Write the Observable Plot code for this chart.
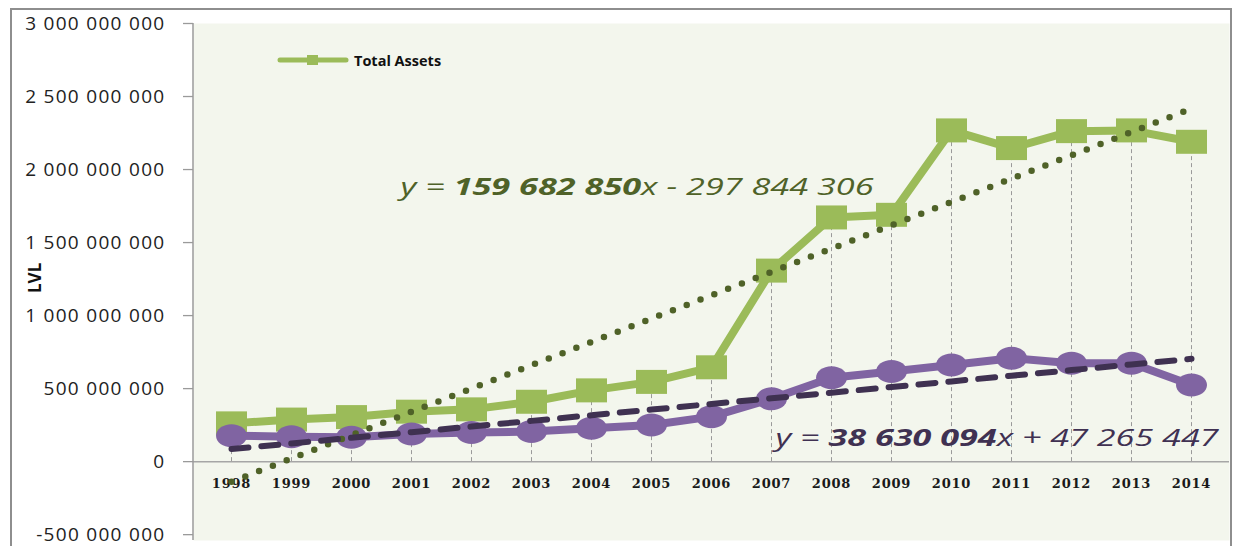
<!DOCTYPE html>
<html>
<head>
<meta charset="utf-8">
<script src="https://cdn.jsdelivr.net/npm/d3@7"></script>
<script src="https://cdn.jsdelivr.net/npm/@observablehq/plot@0.6"></script>
<style>
  html, body { margin: 0; padding: 0; background: #fff; }
  #wrap { position: relative; width: 1238px; height: 546px; overflow: hidden; }
  #border { position: absolute; left: 10px; top: 8px; width: 1222px; height: 600px; border: 2px solid #8e8e8e; box-sizing: border-box; pointer-events: none; }
  #legend { position: absolute; left: 276px; top: 50px; display: flex; align-items: center; font-family: "Open Sans", sans-serif; font-weight: bold; font-size: 14.5px; color: #111; }
  svg g[aria-label="y-axis tick label"] text { letter-spacing: 1.3px; }
</style>
</head>
<body>
<div id="wrap">
  <div id="chart"></div>
  <div id="border"></div>
  <div id="legend">
    <svg width="74" height="20"><line x1="4" y1="10" x2="70" y2="10" stroke="#9bbb59" stroke-width="5" stroke-linecap="round"/><rect x="31" y="5" width="11" height="10" fill="#9bbb59"/></svg>
    <span style="margin-left:4px">Total Assets</span>
  </div>
</div>
<script>
// ---- data ----
const years = ["1998","1999","2000","2001","2002","2003","2004","2005","2006","2007","2008","2009","2010","2011","2012","2013","2014"];
const totalAssets = [262e6, 288e6, 305e6, 342e6, 358e6, 410e6, 488e6, 546e6, 646e6, 1308e6, 1672e6, 1690e6, 2268e6, 2147e6, 2263e6, 2268e6, 2190e6];
const secondSeries = [178e6, 171e6, 167e6, 190e6, 199e6, 206e6, 229e6, 251e6, 308e6, 430e6, 575e6, 617e6, 662e6, 708e6, 674e6, 674e6, 525e6];
const greenTrend = {slope: 159682850, intercept: -297844306};
const purpleTrend = {slope: 38630094, intercept: 47265447};
const yTicks = [-5e8, 0, 5e8, 1e9, 1.5e9, 2e9, 2.5e9, 3e9];
const greenEq = {pre: "y = ", bold: "159 682 850", post: "x - 297 844 306"};
const purpleEq = {pre: "y = ", bold: "38 630 094", post: "x + 47 265 447"};

// ---- derived tables ----
const green = years.map((y, i) => ({year: y, v: totalAssets[i]}));
const purple = years.map((y, i) => ({year: y, v: secondSeries[i]}));
const gTrend = years.map((y, i) => ({year: y, v: greenTrend.slope * (i + 1) + greenTrend.intercept}));
const pTrend = years.map((y, i) => ({year: y, v: purpleTrend.slope * (i + 1) + purpleTrend.intercept}));

const fmt = d => d3.format(",")(d).replace(/,/g, " ").replace("−", "-");
const eqText = d => d.pre + d.bold + d.post;

const rectSymbol = {draw(ctx) { const w = 15.5, h = 12; ctx.moveTo(-w, -h); ctx.lineTo(w, -h); ctx.lineTo(w, h); ctx.lineTo(-w, h); ctx.closePath(); }};
const ellipseSymbol = {draw(ctx) {
  const a = 15.5, b = 11.5, k = 0.5523;
  ctx.moveTo(a, 0);
  ctx.bezierCurveTo(a, b * k, a * k, b, 0, b);
  ctx.bezierCurveTo(-a * k, b, -a, b * k, -a, 0);
  ctx.bezierCurveTo(-a, -b * k, -a * k, -b, 0, -b);
  ctx.bezierCurveTo(a * k, -b, a, -b * k, a, 0);
  ctx.closePath();
}};

const ML = 193, MT = 23, MB = 6;
const plot = Plot.plot({
  width: 1238,
  height: 546,
  marginLeft: ML,
  marginRight: 9,
  marginTop: MT,
  marginBottom: MB,
  style: {fontFamily: "'Open Sans', sans-serif", background: "transparent"},
  x: {type: "point", domain: years, padding: 0.5, axis: null},
  y: {domain: [-5.4e8, 3e9], range: [546 - MB, MT], axis: null},
  marks: [
    Plot.frame({fill: "#f3f6ed", stroke: null}),
    Plot.axisY({ticks: yTicks, tickSize: 10, tickPadding: 18, tickFormat: fmt, label: null, fontSize: 19, stroke: "#9a9a9a", strokeWidth: 1.3, fill: "#222"}),
    Plot.ruleY([0], {stroke: "#a6a6a6", strokeWidth: 1.5}),
    Plot.ruleX(green, {x: "year", y1: 0, y2: "v", stroke: "#9a9a9a", strokeWidth: 1, strokeDasharray: "4,3"}),
    Plot.text(years, {x: d => d, y: 0, dy: 22, text: d => d, fontFamily: "'DejaVu Serif', serif", fontWeight: "bold", fontSize: 13, fill: "#1a1a1a"}),
    Plot.line(green, {x: "year", y: "v", stroke: "#9bbb59", strokeWidth: 8}),
    Plot.dot(green, {x: "year", y: "v", symbol: rectSymbol, fill: "#9bbb59", stroke: null}),
    Plot.line(purple, {x: "year", y: "v", stroke: "#8064a2", strokeWidth: 8}),
    Plot.dot(purple, {x: "year", y: "v", symbol: ellipseSymbol, fill: "#8064a2", stroke: null}),
    Plot.line(gTrend, {x: "year", y: "v", stroke: "#4f6228", strokeWidth: 6.5, strokeDasharray: "0 14.8", strokeLinecap: "round"}),
    Plot.line(pTrend, {x: "year", y: "v", stroke: "#3f3151", strokeWidth: 6, strokeDasharray: "17 13", strokeLinecap: "round"}),
    Plot.text([greenEq], {x: () => "2009", y: () => 1875e6, dx: -18, textAnchor: "end", text: eqText, fontSize: 24, fontStyle: "italic", fill: "#4f6228"}),
    Plot.text([purpleEq], {x: () => "2014", y: () => 162e6, dx: 27, textAnchor: "end", text: eqText, fontSize: 24, fontStyle: "italic", fill: "#403152"}),
    Plot.text(["LVL"], {frameAnchor: "left", dx: -158, dy: 11, rotate: -90, text: d => d, fontSize: 17, fontWeight: "bold", fill: "#111"})
  ]
});

const svg = d3.select(plot);

// y axis line
const yr = plot.scale("y").range;
svg.append("line").attr("x1", ML).attr("x2", ML).attr("y1", yr[0]).attr("y2", yr[1]).attr("stroke", "#9a9a9a").attr("stroke-width", 1.5);

// year labels letter spacing
svg.selectAll("text").filter(function() { return years.includes(this.textContent); }).style("letter-spacing", "0.8px");

// equations: bold coefficient as tspan, stretched to reference width
function styleEq(eq, len) {
  const full = eqText(eq);
  svg.selectAll("text").filter(function() { return this.textContent === full; }).each(function() {
    const t = d3.select(this);
    t.text(null);
    t.append("tspan").text(eq.pre);
    t.append("tspan").attr("font-weight", "bold").text(eq.bold);
    t.append("tspan").text(eq.post);
    t.attr("textLength", len).attr("lengthAdjust", "spacingAndGlyphs");
  });
}
styleEq(greenEq, 473);
styleEq(purpleEq, 443);

document.getElementById("chart").appendChild(plot);
</script>
</body>
</html>
